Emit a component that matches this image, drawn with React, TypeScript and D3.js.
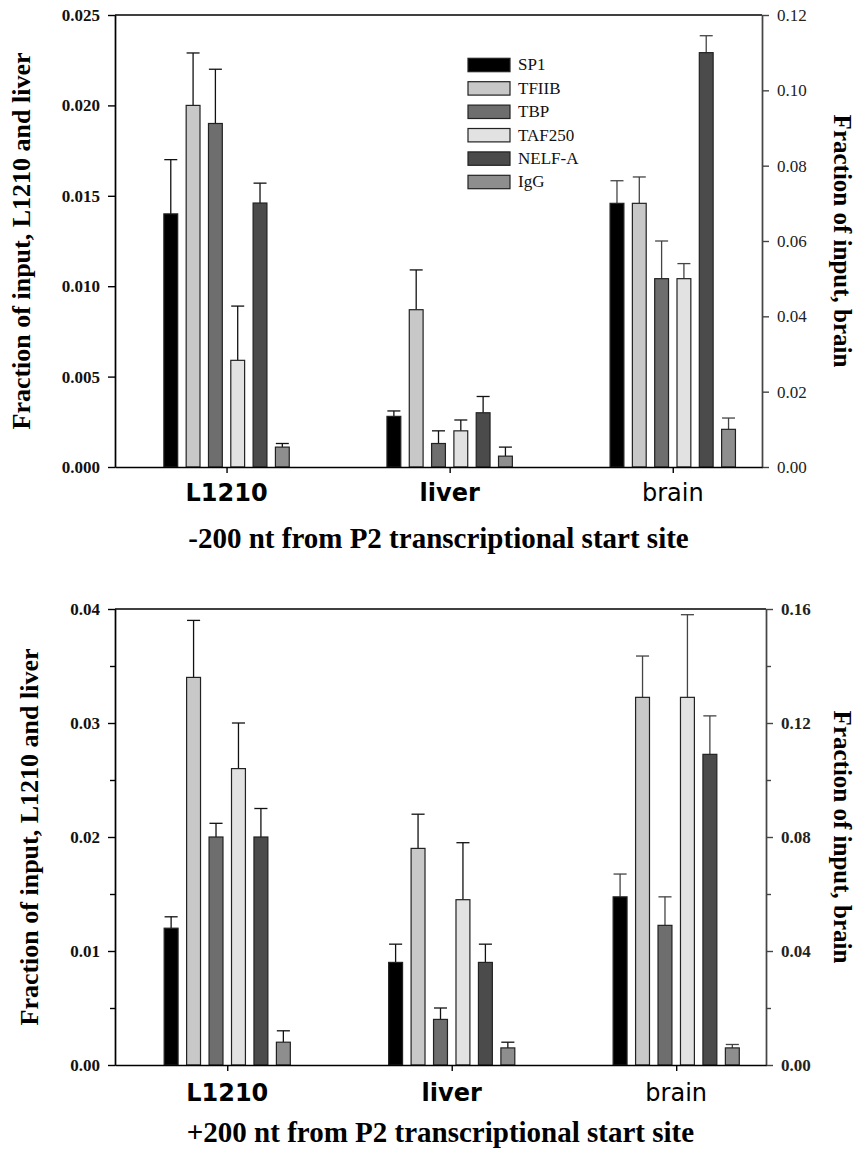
import React, { useEffect, useRef } from "react";
import * as d3 from "d3";

// ---- data -------------------------------------------------------------
const categories = ["L1210", "liver", "brain"];
const factors = ["SP1", "TFIIB", "TBP", "TAF250", "NELF-A", "IgG"];
const factorFill = ["#000000", "#c8c8c8", "#6e6e6e", "#e2e2e2", "#4b4b4b", "#8e8e8e"];

// -200 nt from P2 (L1210 and liver on the left axis, brain on the right axis)
const m200L1210 = [0.014, 0.02, 0.019, 0.0059, 0.0146, 0.0011];
const m200L1210Err = [0.003, 0.0029, 0.003, 0.003, 0.0011, 0.0002];
const m200Liver = [0.0028, 0.0087, 0.0013, 0.002, 0.003, 0.0006];
const m200LiverErr = [0.0003, 0.0022, 0.0007, 0.0006, 0.0009, 0.0005];
const m200Brain = [0.07, 0.07, 0.05, 0.05, 0.11, 0.01];
const m200BrainErr = [0.006, 0.007, 0.01, 0.004, 0.0045, 0.003];

// +200 nt from P2
const p200L1210 = [0.012, 0.034, 0.02, 0.026, 0.02, 0.002];
const p200L1210Err = [0.001, 0.005, 0.0012, 0.004, 0.0025, 0.001];
const p200Liver = [0.009, 0.019, 0.004, 0.0145, 0.009, 0.0015];
const p200LiverErr = [0.0016, 0.003, 0.001, 0.005, 0.0016, 0.0005];
const p200Brain = [0.059, 0.129, 0.049, 0.129, 0.109, 0.006];
const p200BrainErr = [0.008, 0.0145, 0.01, 0.029, 0.0135, 0.0012];

// axis ticks
const m200LeftTicks = [0, 0.005, 0.01, 0.015, 0.02, 0.025];
const m200RightTicks = [0, 0.02, 0.04, 0.06, 0.08, 0.1, 0.12];
const p200LeftTicks = [0, 0.01, 0.02, 0.03, 0.04];
const p200LeftMinor = [0.005, 0.015, 0.025, 0.035];
const p200RightTicks = [0, 0.04, 0.08, 0.12, 0.16];
const p200RightMinor = [0.02, 0.06, 0.1, 0.14];

const SERIF = "'Liberation Serif', 'Times New Roman', serif";
const SANS = "'DejaVu Sans', Verdana, sans-serif";

type PanelSpec = {
  top: number;
  bottom: number;
  left: number;
  right: number;
  leftMax: number;
  rightMax: number;
  leftTicks: number[];
  leftMinor: number[];
  leftFmt: string;
  rightTicks: number[];
  rightMinor: number[];
  rightFmt: string;
  rightBold: boolean;
  groups: { values: number[]; errors: number[]; axis: "left" | "right" }[];
  subtitle: string;
  leftTitleX: number;
  rightTitleX: number;
  catY: number;
  subY: number;
  legend: boolean;
};

const panels: PanelSpec[] = [
  {
    top: 15,
    bottom: 467,
    left: 115,
    right: 762,
    leftMax: 0.025,
    rightMax: 0.12,
    leftTicks: m200LeftTicks,
    leftMinor: [],
    leftFmt: ".3f",
    rightTicks: m200RightTicks,
    rightMinor: [],
    rightFmt: ".2f",
    rightBold: false,
    groups: [
      { values: m200L1210, errors: m200L1210Err, axis: "left" },
      { values: m200Liver, errors: m200LiverErr, axis: "left" },
      { values: m200Brain, errors: m200BrainErr, axis: "right" },
    ],
    subtitle: "-200 nt from P2 transcriptional start site",
    leftTitleX: 30,
    rightTitleX: 834,
    catY: 501,
    subY: 548,
    legend: true,
  },
  {
    top: 609,
    bottom: 1065,
    left: 115,
    right: 766,
    leftMax: 0.04,
    rightMax: 0.16,
    leftTicks: p200LeftTicks,
    leftMinor: p200LeftMinor,
    leftFmt: ".2f",
    rightTicks: p200RightTicks,
    rightMinor: p200RightMinor,
    rightFmt: ".2f",
    rightBold: true,
    groups: [
      { values: p200L1210, errors: p200L1210Err, axis: "left" },
      { values: p200Liver, errors: p200LiverErr, axis: "left" },
      { values: p200Brain, errors: p200BrainErr, axis: "right" },
    ],
    subtitle: "+200 nt from P2 transcriptional start site",
    leftTitleX: 38,
    rightTitleX: 834,
    catY: 1101,
    subY: 1142,
    legend: false,
  },
];

const BAR_STEP = 0.1;
const BAR_W = 0.062;

function Panel({ p }: { p: PanelSpec }) {
  const leftRef = useRef<SVGGElement>(null);
  const rightRef = useRef<SVGGElement>(null);
  const bottomRef = useRef<SVGGElement>(null);

  const x = d3.scaleLinear().domain([0.5, 3.4]).range([p.left, p.right]);
  const yL = d3.scaleLinear().domain([0, p.leftMax]).range([p.bottom, p.top]);
  const yR = d3.scaleLinear().domain([0, p.rightMax]).range([p.bottom, p.top]);

  useEffect(() => {
    const gl = d3.select(leftRef.current!);
    gl.selectAll("*").remove();
    gl.append("g").call(
      d3.axisLeft(yL).tickValues(p.leftMinor).tickSize(5).tickSizeOuter(0).tickFormat(() => "")
    );
    gl.append("g").call(
      d3
        .axisLeft(yL)
        .tickValues(p.leftTicks)
        .tickSize(7)
        .tickSizeOuter(0)
        .tickPadding(8)
        .tickFormat(d3.format(p.leftFmt) as any)
    );
    gl.selectAll("path,line").attr("stroke", "#000").attr("stroke-width", 1.4);
    gl.selectAll("text")
      .attr("font-family", SERIF)
      .attr("font-size", 17)
      .attr("font-weight", "bold")
      .attr("fill", "#111");

    const gr = d3.select(rightRef.current!);
    gr.selectAll("*").remove();
    gr.append("g").call(
      d3.axisRight(yR).tickValues(p.rightMinor).tickSize(5).tickSizeOuter(0).tickFormat(() => "")
    );
    gr.append("g").call(
      d3
        .axisRight(yR)
        .tickValues(p.rightTicks)
        .tickSize(7)
        .tickSizeOuter(0)
        .tickPadding(8)
        .tickFormat(d3.format(p.rightFmt) as any)
    );
    gr.selectAll("path,line").attr("stroke", "#444").attr("stroke-width", 1.4);
    gr.selectAll("text")
      .attr("font-family", SERIF)
      .attr("font-size", 17)
      .attr("font-weight", p.rightBold ? "bold" : "normal")
      .attr("fill", "#222");

    const gb = d3.select(bottomRef.current!);
    gb.selectAll("*").remove();
    gb.call(
      d3
        .axisBottom(x)
        .tickValues([1, 2, 3])
        .tickSize(6)
        .tickSizeOuter(0)
        .tickFormat(() => "")
    );
    gb.selectAll("path,line").attr("stroke", "#000").attr("stroke-width", 1.4);
  }, []);

  return (
    <g>
      {/* top frame line */}
      <line x1={p.left} x2={p.right} y1={p.top} y2={p.top} stroke="#000" strokeWidth={1.4} />

      {/* bars and error bars */}
      {p.groups.map((grp, gi) => {
        const y = grp.axis === "left" ? yL : yR;
        const errColor = grp.axis === "left" ? "#111" : "#444";
        return (
          <g key={gi}>
            {grp.values.map((v, k) => {
              const cx = gi + 1 + (k - 2.5) * BAR_STEP;
              const x0 = x(cx - BAR_W / 2);
              const x1 = x(cx + BAR_W / 2);
              const w = x1 - x0;
              const yTop = y(v);
              const yErr = y(v + grp.errors[k]);
              const xm = x(cx);
              return (
                <g key={k}>
                  <line x1={xm} x2={xm} y1={yTop} y2={yErr} stroke={errColor} strokeWidth={1.3} />
                  <line x1={xm - w * 0.47} x2={xm + w * 0.47} y1={yErr} y2={yErr} stroke={errColor} strokeWidth={1.3} />
                  <rect
                    x={x0}
                    y={yTop}
                    width={w}
                    height={p.bottom - yTop}
                    fill={factorFill[k]}
                    stroke="#222"
                    strokeWidth={1.2}
                  />
                </g>
              );
            })}
          </g>
        );
      })}

      <g ref={leftRef} transform={`translate(${p.left},0)`} />
      <g ref={rightRef} transform={`translate(${p.right},0)`} />
      <g ref={bottomRef} transform={`translate(0,${p.bottom})`} />

      {/* category labels */}
      {categories.map((c, i) => (
        <text
          key={c}
          x={x(i + 1)}
          y={p.catY}
          textAnchor="middle"
          fontFamily={SANS}
          fontSize={24}
          fontWeight={i < 2 ? "bold" : "normal"}
          fill="#000"
        >
          {c}
        </text>
      ))}

      {/* axis titles */}
      <text
        transform={`translate(${p.leftTitleX},${(p.top + p.bottom) / 2}) rotate(-90)`}
        textAnchor="middle"
        fontFamily={SERIF}
        fontSize={26}
        fontWeight="bold"
      >
        Fraction of input, L1210 and liver
      </text>
      <text
        transform={`translate(${p.rightTitleX},${(p.top + p.bottom) / 2}) rotate(90)`}
        textAnchor="middle"
        fontFamily={SERIF}
        fontSize={25}
        fontWeight="bold"
      >
        Fraction of input, brain
      </text>

      <text
        x={(p.left + p.right) / 2}
        y={p.subY}
        textAnchor="middle"
        fontFamily={SERIF}
        fontSize={29}
        fontWeight="bold"
      >
        {p.subtitle}
      </text>

      {p.legend && (
        <g>
          {factors.map((f, k) => (
            <g key={f} transform={`translate(468,${58.3 + k * 23.4})`}>
              <rect width={42} height={13.4} fill={factorFill[k]} stroke="#222" strokeWidth={1.2} />
              <text x={50} y={12} fontFamily={SERIF} fontSize={17} fill="#111">
                {f}
              </text>
            </g>
          ))}
        </g>
      )}
    </g>
  );
}

export default function App() {
  return (
    <div style={{ position: "absolute", left: 0, top: 0 }}>
      <svg width={858} height={1150} viewBox="0 0 858 1150" style={{ display: "block", background: "#fff" }}>
        <rect width={858} height={1150} fill="#fff" />
        {panels.map((p, i) => (
          <Panel key={i} p={p} />
        ))}
      </svg>
    </div>
  );
}
